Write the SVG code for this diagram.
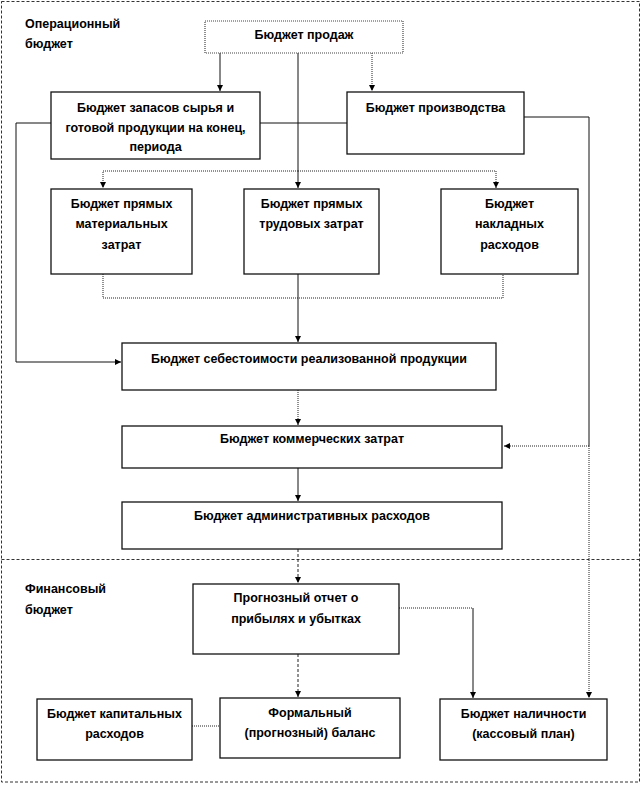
<svg xmlns="http://www.w3.org/2000/svg" width="641" height="785" viewBox="0 0 641 785">
<style>
  .bg { fill: #ffffff; }
  .frame { fill: none; stroke: #333333; stroke-width: 1; stroke-dasharray: 3 2; }
  .box { fill: #ffffff; stroke: #111111; stroke-width: 1.3; }
  .box-dot { fill: #ffffff; stroke: #444444; stroke-width: 1.2; stroke-dasharray: 1 1; }
  .t { font-family: "Liberation Sans", Arial, sans-serif; font-size: 12.5px; font-weight: bold; fill: #000000; text-anchor: middle; }
  .lbl { font-family: "Liberation Sans", Arial, sans-serif; font-size: 12.5px; font-weight: bold; fill: #000000; }
  .c { fill: none; stroke: #111111; stroke-width: 1; }
  .cd { fill: none; stroke: #222222; stroke-width: 1; stroke-dasharray: 1 1; }
  .cdash { fill: none; stroke: #222222; stroke-width: 1; stroke-dasharray: 3 2; }
</style>
<defs>
  <marker id="arr" viewBox="0 0 8 8" refX="8" refY="4" markerWidth="6" markerHeight="6" markerUnits="userSpaceOnUse" orient="auto">
    <path d="M0,0 L8,4 L0,8 z" fill="#000000"/>
  </marker>
</defs>
<rect class="bg" x="0" y="0" width="641" height="785"/>

<g id="frames">
  <rect class="frame" x="1.5" y="1.5" width="638" height="780.5"/>
  <line class="frame" x1="1.5" y1="559.5" x2="639.5" y2="559.5"/>
</g>

<g id="labels">
  <text class="lbl" x="25" y="28">Операционный</text>
  <text class="lbl" x="25" y="48">бюджет</text>
  <text class="lbl" x="25" y="593">Финансовый</text>
  <text class="lbl" x="25" y="614">бюджет</text>
</g>

<g id="connectors">
  <path class="c" d="M220,53 V91" marker-end="url(#arr)"/>
  <path class="cd" d="M372,53 V91" marker-end="url(#arr)"/>
  <path class="c" d="M298,53 V188" marker-end="url(#arr)"/>
  <path class="cd" d="M298,171 H103 V188" marker-end="url(#arr)"/>
  <path class="cd" d="M298,171 H496 V188" marker-end="url(#arr)"/>
  <path class="c" d="M51,123 H16 V362 H121" marker-end="url(#arr)"/>
  <path class="c" d="M260,123 H347"/>
  <path class="c" d="M524,117 H589 V446"/>
  <path class="cd" d="M589,446 V698" marker-end="url(#arr)"/>
  <path class="cd" d="M589,446 H504" marker-end="url(#arr)"/>
  <path class="cd" d="M103,274 V298 H503 V275"/>
  <path class="c" d="M298,274 V342" marker-end="url(#arr)"/>
  <path class="cd" d="M298,390 V425" marker-end="url(#arr)"/>
  <path class="c" d="M298,468 V501" marker-end="url(#arr)"/>
  <path class="cdash" d="M298,549 V583" marker-end="url(#arr)"/>
  <path class="cd" d="M399,608 H473"/>
  <path class="c" d="M473,608 V698" marker-end="url(#arr)"/>
  <path class="cdash" d="M298,654 V697" marker-end="url(#arr)"/>
  <path class="cd" d="M192,726 H220"/>
</g>

<g id="n-sales">
  <rect class="box-dot" x="205" y="21" width="198" height="32"/>
  <text class="t" x="304" y="39">Бюджет продаж</text>
</g>
<g id="n-stocks">
  <rect class="box" x="51" y="92" width="209" height="67"/>
  <text class="t" x="155.5" y="112">Бюджет запасов сырья  и</text>
  <text class="t" x="155.5" y="131.5">готовой продукции на конец,</text>
  <text class="t" x="155.5" y="151">периода</text>
</g>
<g id="n-production">
  <rect class="box" x="347" y="92" width="177" height="62"/>
  <text class="t" x="435.5" y="112">Бюджет производства</text>
</g>
<g id="n-materials">
  <rect class="box" x="51" y="189" width="141" height="85"/>
  <text class="t" x="121.5" y="207.5">Бюджет прямых</text>
  <text class="t" x="121.5" y="228">материальных</text>
  <text class="t" x="121.5" y="248.5">затрат</text>
</g>
<g id="n-labour">
  <rect class="box" x="244" y="189" width="135" height="85"/>
  <text class="t" x="311.5" y="207.5">Бюджет прямых</text>
  <text class="t" x="311.5" y="228">трудовых затрат</text>
</g>
<g id="n-overhead">
  <rect class="box" x="441" y="189" width="137" height="85"/>
  <text class="t" x="509.5" y="207.5">Бюджет</text>
  <text class="t" x="509.5" y="228">накладных</text>
  <text class="t" x="509.5" y="248.5">расходов</text>
</g>
<g id="n-cogs">
  <rect class="box" x="122" y="343" width="374" height="47"/>
  <text class="t" x="309" y="363">Бюджет себестоимости реализованной продукции</text>
</g>
<g id="n-selling">
  <rect class="box" x="122" y="426" width="380" height="42"/>
  <text class="t" x="312" y="443">Бюджет коммерческих затрат</text>
</g>
<g id="n-admin">
  <rect class="box" x="122" y="502" width="380" height="47"/>
  <text class="t" x="312" y="520">Бюджет административных расходов</text>
</g>
<g id="n-pl">
  <rect class="box" x="193" y="584" width="206" height="70"/>
  <text class="t" x="296" y="601.5">Прогнозный отчет о</text>
  <text class="t" x="296" y="623">прибылях и убытках</text>
</g>
<g id="n-capex">
  <rect class="box" x="37" y="699" width="155" height="61"/>
  <text class="t" x="114.5" y="718">Бюджет капитальных</text>
  <text class="t" x="114.5" y="738">расходов</text>
</g>
<g id="n-balance">
  <rect class="box" x="220" y="698" width="180" height="60"/>
  <text class="t" x="310" y="716.5">Формальный</text>
  <text class="t" x="310" y="736.5">(прогнозный) баланс</text>
</g>
<g id="n-cash">
  <rect class="box" x="440" y="699" width="167" height="61"/>
  <text class="t" x="523.5" y="718">Бюджет наличности</text>
  <text class="t" x="523.5" y="738">(кассовый план)</text>
</g>
</svg>
